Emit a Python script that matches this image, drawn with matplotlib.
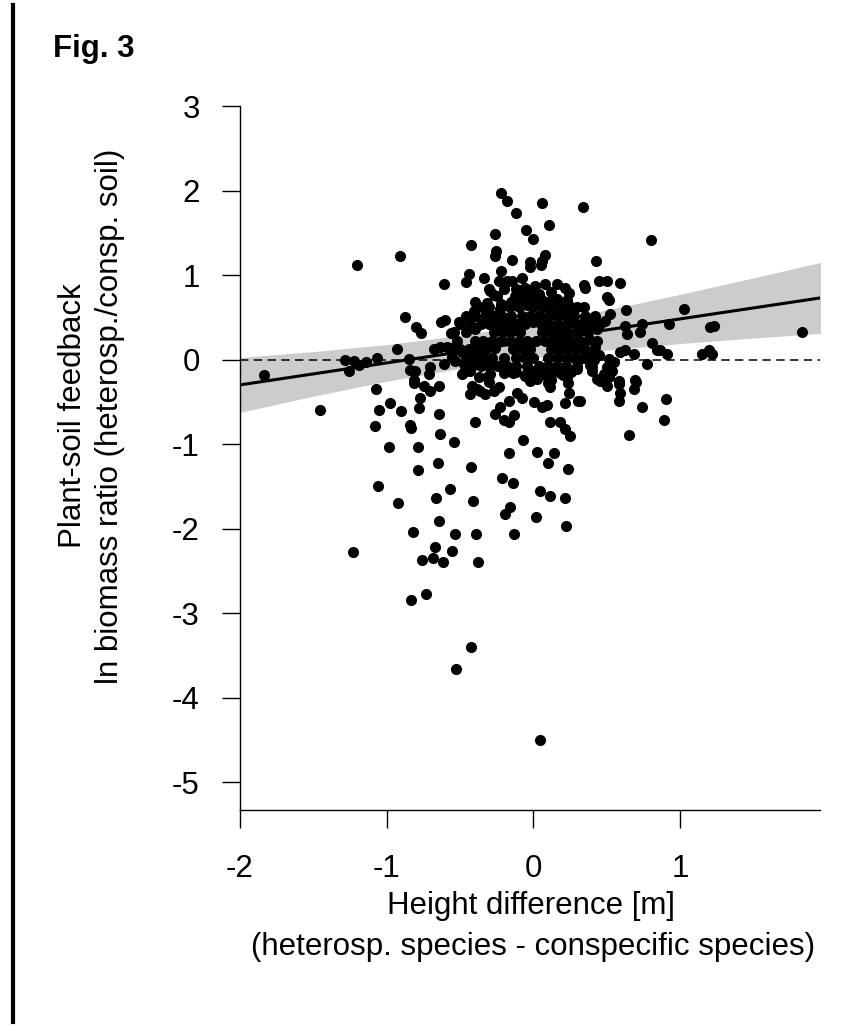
import matplotlib
matplotlib.use("Agg")
import matplotlib.pyplot as plt
import numpy as np
from matplotlib.lines import Line2D

plt.rcParams['font.family'] = ['Liberation Sans', 'DejaVu Sans']

# --- data (height difference [m], ln biomass ratio) ---
pts_left = [(-1.202, 1.12), (-1.838, -0.18), (-1.286, -0.01), (-1.225, -0.02), (-1.19, -0.06),
            (-1.138, -0.03), (-1.065, 0.02), (-1.254, -0.13), (-0.911, 1.23), (-0.873, 0.50),
            (-0.80, 0.38), (-0.765, 0.31), (-0.627, 0.44), (-0.60, 0.47), (-0.561, 0.31),
            (-0.50, 0.42), (-0.929, 0.13), (-0.85, 0.01), (-0.838, -0.12), (-0.804, -0.13),
            (-0.68, 0.13), (-0.634, 0.15), (-0.588, 0.15), (-0.702, -0.09), (-0.714, -0.17),
            (-0.611, -0.05), (-0.554, 0.03), (-0.486, 0.09), (-0.475, -0.05), (-0.429, 0.03),
            (-0.486, -0.17), (-0.429, -0.13), (-0.816, -0.24), (-0.611, 0.89)]

pts_top = [(-0.423, 1.36), (-0.441, 1.01), (-0.457, 0.92), (-0.334, 0.97), (-0.22, 1.97),
           (-0.179, 1.88), (0.059, 1.85), (0.339, 1.80), (-0.116, 1.73), (0.109, 1.59),
           (-0.048, 1.53), (-0.002, 1.43), (-0.259, 1.49), (-0.252, 1.29), (-0.259, 1.23),
           (-0.145, 1.18), (-0.02, 1.15), (-0.025, 1.09), (0.082, 1.24), (0.059, 1.17),
           (0.055, 1.12), (-0.22, 1.05), (-0.395, 0.68), (-0.384, 0.62), (0.804, 1.41),
           (0.429, 1.17)]

pts_right = [(0.343, 0.88), (0.354, 0.85), (0.445, 0.93), (0.502, 0.93), (0.593, 0.91),
             (0.502, 0.74), (0.513, 0.70), (0.343, 0.62), (0.634, 0.59), (1.029, 0.60),
             (0.423, 0.52), (0.525, 0.54), (0.491, 0.46), (0.457, 0.42), (0.343, 0.44),
             (0.40, 0.38), (0.32, 0.34), (0.627, 0.40), (0.639, 0.30), (0.741, 0.42),
             (0.725, 0.32), (0.922, 0.42), (1.207, 0.38), (1.229, 0.40), (1.832, 0.33),
             (0.809, 0.20), (0.434, 0.22), (0.423, 0.15), (0.389, 0.09), (0.445, 0.05),
             (0.593, 0.09), (0.627, 0.11), (0.684, 0.07), (0.843, 0.11), (0.866, 0.11),
             (0.911, 0.07), (1.15, 0.07), (1.195, 0.11), (1.218, 0.07), (0.343, 0.19),
             (0.354, 0.03), (0.389, -0.07), (0.411, -0.01), (0.513, 0.01), (0.547, -0.03),
             (0.502, -0.09), (0.536, -0.13), (0.775, -0.05), (0.479, -0.17), (0.513, -0.21),
             (0.581, -0.25), (0.695, -0.24), (0.40, -0.13), (0.457, -0.25), (0.491, -0.21),
             (0.502, -0.31), (0.581, -0.29), (0.588, -0.40), (0.581, -0.49), (0.702, -0.26),
             (0.688, -0.35), (0.32, -0.49), (0.905, -0.47), (0.741, -0.56), (0.888, -0.71),
             (0.65, -0.89)]

pts_low = [(-1.07, -0.35), (-1.452, -0.60), (-1.054, -0.60), (-0.975, -0.52), (-1.077, -0.79),
           (-0.986, -1.04), (-1.059, -1.50), (-1.232, -2.28), (-0.816, -0.28), (-0.748, -0.31),
           (-0.702, -0.37), (-0.77, -0.45), (-0.646, -0.31), (-0.90, -0.61), (-0.782, -0.57),
           (-0.646, -0.64), (-0.843, -0.78), (-0.834, -0.81), (-0.634, -0.88), (-0.539, -0.97),
           (-0.395, -0.74), (-0.789, -1.04), (-0.65, -1.22), (-0.789, -1.31), (-0.425, -1.27),
           (-0.571, -1.53), (-0.925, -1.70), (-0.663, -1.64), (-0.414, -1.67), (-0.641, -1.91),
           (-0.82, -2.04), (-0.532, -2.06), (-0.391, -2.06), (-0.668, -2.22), (-0.554, -2.26),
           (-0.759, -2.37), (-0.684, -2.35), (-0.616, -2.40), (-0.38, -2.39), (-0.293, -0.17),
           (-0.373, -0.21), (-0.327, -0.41), (-0.429, -0.41), (-0.384, -0.35), (-0.418, -0.31),
           (-0.305, -0.27), (-0.361, -0.37), (-0.27, -0.37), (-0.236, -0.33), (-0.168, -0.49),
           (-0.225, -0.56), (-0.259, -0.64), (-0.202, -0.72), (-0.168, -0.74), (-0.134, -0.66),
           (-0.111, -0.39), (-0.077, -0.45), (0.002, -0.50), (0.059, -0.56), (0.093, -0.54),
           (0.116, -0.33), (0.241, -0.39), (0.218, -0.52), (0.302, -0.49), (0.116, -0.74),
           (0.184, -0.74), (0.218, -0.82), (0.248, -0.90), (-0.07, -0.95), (-0.168, -1.11),
           (0.025, -1.09), (0.138, -1.10), (0.097, -1.23), (0.236, -1.29), (-0.213, -1.40),
           (-0.138, -1.46), (0.048, -1.55), (0.116, -1.62), (0.213, -1.64), (-0.157, -1.74),
           (-0.191, -1.83), (0.018, -1.86), (0.225, -1.97), (-0.134, -2.07), (-0.832, -2.84),
           (-0.729, -2.78), (-0.427, -3.40), (-0.53, -3.66), (0.048, -4.50),
           (-0.12, -0.15), (-0.06, -0.20), (0.0, -0.14), (0.08, -0.18), (0.14, -0.14),
           (0.20, -0.18), (0.26, -0.15), (-0.02, -0.25), (0.12, -0.24), (0.24, -0.28),
           (0.10, -0.28)]

pts_core = [(-0.191, 0.91), (-0.145, 0.93), (-0.077, 0.97), (-0.055, 0.85), (0.014, 0.87),
            (0.082, 0.89), (0.161, 0.89), (0.218, 0.85), (0.241, 0.79), (0.229, 0.71),
            (0.218, 0.64), (0.184, 0.59), (-0.293, 0.81), (-0.247, 0.75), (-0.316, 0.67),
            (-0.407, 0.58), (-0.123, 0.75), (-0.077, 0.75), (-0.02, 0.77), (0.036, 0.77),
            (-0.089, 0.64), (-0.043, 0.65), (0.025, 0.67), (0.082, 0.65), (0.116, 0.59),
            (-0.509, 0.44), (-0.543, 0.32), (-0.554, 0.14), (-0.532, -0.02), (-0.475, -0.15),
            (-0.316, -0.21), (0.025, -0.23), (0.229, -0.21), (0.298, -0.11), (0.40, -0.09),
            (0.434, -0.23), (0.411, 0.50), (0.434, 0.36), (0.377, 0.24), (0.343, 0.12),
            (0.389, 0.00), (-0.305, 0.84), (-0.27, 0.76), (-0.236, 0.93), (-0.18, 0.93),
            (-0.20, 0.84), (-0.12, 0.84), (-0.15, 0.68), (-0.22, 0.66), (0.12, 0.80),
            (0.16, 0.72), (0.05, 0.72), (-0.01, 0.70), (-0.10, 0.82), (0.10, 0.68),
            (-0.35, 0.62), (-0.30, 0.62), (-0.23, 0.60), (-0.16, 0.62), (-0.10, 0.62),
            (0.00, 0.62), (0.06, 0.62), (0.12, 0.60), (0.17, 0.62), (0.26, 0.62), (0.30, 0.62),
            (-0.46, 0.52), (-0.40, 0.52), (-0.33, 0.52), (-0.27, 0.52), (-0.21, 0.50),
            (-0.15, 0.52), (-0.08, 0.52), (-0.02, 0.52), (0.04, 0.52), (0.10, 0.52),
            (0.16, 0.52), (0.22, 0.52), (0.28, 0.52), (0.35, 0.52),
            (-0.43, 0.42), (-0.36, 0.42), (-0.30, 0.42), (-0.24, 0.42), (-0.18, 0.42),
            (-0.12, 0.42), (-0.06, 0.42), (0.00, 0.44), (0.05, 0.42), (0.11, 0.42),
            (0.17, 0.42), (0.23, 0.42), (0.29, 0.42), (0.36, 0.42),
            (-0.46, 0.32), (-0.40, 0.36), (-0.27, 0.32), (-0.21, 0.32), (-0.15, 0.32),
            (-0.09, 0.32), (0.06, 0.32), (0.12, 0.32), (0.18, 0.32), (0.24, 0.32),
            (0.30, 0.32), (0.37, 0.32),
            (-0.52, 0.22), (-0.40, 0.22), (-0.34, 0.22), (-0.28, 0.22), (-0.22, 0.22),
            (-0.16, 0.22), (-0.10, 0.22), (-0.04, 0.22), (0.02, 0.22), (0.08, 0.22),
            (0.14, 0.22), (0.20, 0.22), (0.26, 0.22), (0.32, 0.22),
            (-0.50, 0.12), (-0.44, 0.12), (-0.38, 0.12), (-0.32, 0.12), (-0.26, 0.14),
            (-0.14, 0.12), (-0.08, 0.12), (-0.02, 0.12), (0.12, 0.12), (0.18, 0.12),
            (0.24, 0.12), (0.30, 0.12),
            (-0.46, 0.02), (-0.40, 0.02), (-0.34, 0.02), (-0.28, 0.02), (-0.20, 0.02),
            (-0.12, 0.02), (-0.06, 0.02), (0.00, 0.02), (0.10, 0.02), (0.16, 0.02),
            (0.22, 0.02), (0.28, 0.02), (0.34, 0.02),
            (-0.42, -0.08), (-0.36, -0.08), (-0.30, -0.08), (-0.24, -0.08), (-0.18, -0.08),
            (-0.12, -0.08), (-0.04, -0.08), (0.04, -0.08), (0.10, -0.08), (0.16, -0.08),
            (0.22, -0.08), (0.30, -0.08),
            (-0.20, -0.16), (-0.14, -0.16), (-0.04, -0.16), (0.06, -0.16), (0.18, -0.16)]

# regression line and its confidence band
fit_x = [-2.0, 1.96]
fit_y = [-0.30, 0.73]
band_x = [-2.0, -1.5, -1.0, -0.5, 0.0, 0.5, 1.0, 1.5, 1.96]
band_lo = [-0.625, -0.434, -0.257, -0.105, 0.02, 0.113, 0.189, 0.254, 0.31]
band_hi = [0.025, 0.094, 0.177, 0.285, 0.42, 0.587, 0.771, 0.966, 1.15]

xticks = [-2, -1, 0, 1]
yticks = [3, 2, 1, 0, -1, -2, -3, -4, -5]

W, H = 845, 1029
FS = 22.5


def fx(px):
    return px / W


def fy(py):
    return 1 - py / H


fig = plt.figure(figsize=(W / 100, H / 100), dpi=100)
ax = fig.add_axes([fx(240), fy(810), fx(820) - fx(240), fy(106) - fy(810)])

ax.fill_between(band_x, band_lo, band_hi, color='#cccccc', lw=0, zorder=1)
ax.axhline(0, color='black', lw=1.1, dashes=(5.5, 3.5), zorder=2)
allpts = pts_left + pts_top + pts_right + pts_low + pts_core
xs = np.array([p[0] for p in allpts])
ys = np.array([p[1] for p in allpts])
ax.plot(xs, ys, 'o', color='black', ms=8.0, mew=0, zorder=3)
ax.plot(fit_x, fit_y, color='black', lw=2.2, zorder=4)

ax.set_xlim(-2.0, 1.955)
ax.set_ylim(-5.33, 3.0)
ax.spines['top'].set_visible(False)
ax.spines['right'].set_visible(False)
for s in ['left', 'bottom']:
    ax.spines[s].set_linewidth(1.0)
ax.set_xticks(xticks)
ax.set_yticks(yticks)
ax.set_xticklabels([str(t) for t in xticks])
ax.set_yticklabels([str(t) for t in yticks])
ax.tick_params(axis='both', length=13, width=1.0, labelsize=FS, direction='out')
ax.tick_params(axis='x', pad=19)
ax.tick_params(axis='y', pad=16)

fig.text(fx(531), fy(906), "Height difference [m]", ha='center', va='center', fontsize=FS)
fig.text(fx(533), fy(947), "(heterosp. species - conspecific species)", ha='center',
         va='center', fontsize=FS)
fig.text(fx(73), fy(416), "Plant-soil feedback", ha='center', va='center',
         rotation=90, fontsize=FS)
fig.text(fx(110), fy(416), "ln biomass ratio (heterosp./consp. soil)", ha='center',
         va='center', rotation=90, fontsize=FS)
fig.text(fx(53), fy(57), "Fig. 3", ha='left', va='baseline', fontsize=FS,
         fontweight='bold')
fig.add_artist(Line2D([fx(13.5), fx(13.5)], [fy(5), fy(1022)], color='black', lw=3.0))

fig.savefig("out.png", dpi=100)
